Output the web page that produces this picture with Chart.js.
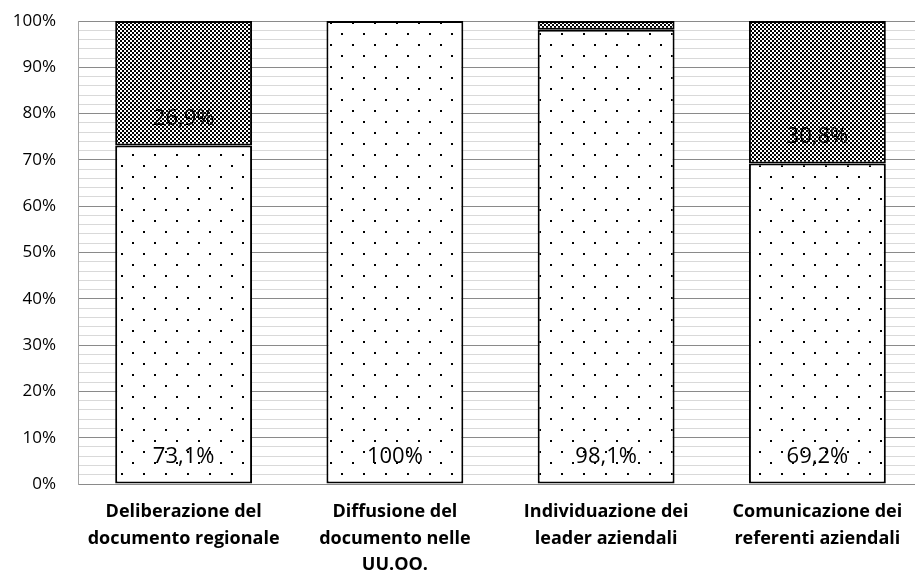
<!DOCTYPE html>
<html>
<head>
<meta charset="utf-8">
<script src="https://cdn.jsdelivr.net/npm/chart.js@4/dist/chart.umd.min.js"></script>
<style>
  html, body { margin: 0; padding: 0; background: #fff; overflow: hidden; }
  #wrap { width: 915px; height: 570px; overflow: hidden; }
</style>
</head>
<body>
<div id="wrap"><canvas id="c" width="924" height="570"></canvas></div>
<script>
const categories = [
  ['Deliberazione del', 'documento regionale'],
  ['Diffusione del', 'documento nelle', 'UU.OO.'],
  ['Individuazione dei', 'leader aziendali'],
  ['Comunicazione dei', 'referenti aziendali']
];
const seriesYes = [73.1, 100, 98.1, 69.2];
const seriesNo = [26.9, 0, 1.9, 30.8];
const labelsYes = ['73,1%', '100%', '98,1%', '69,2%'];
const labelsNo = ['26,9%', '', '', '30,8%'];
const yTickLabels = ['0%', '10%', '20%', '30%', '40%', '50%', '60%', '70%', '80%', '90%', '100%'];

function dotPattern() {
  const c = document.createElement('canvas');
  c.width = 22; c.height = 22;
  const x = c.getContext('2d');
  x.fillStyle = '#fff'; x.fillRect(0, 0, 22, 22);
  x.fillStyle = '#000';
  x.fillRect(0, 0, 2, 2);
  x.fillRect(11, 11, 2, 2);
  return x.createPattern(c, 'repeat');
}
function checkPattern() {
  const c = document.createElement('canvas');
  c.width = 4; c.height = 4;
  const x = c.getContext('2d');
  x.fillStyle = '#fff'; x.fillRect(0, 0, 4, 4);
  x.fillStyle = '#000';
  x.fillRect(0, 0, 2, 2);
  x.fillRect(2, 2, 2, 2);
  return x.createPattern(c, 'repeat');
}

const FONT = '"Open Sans", "DejaVu Sans", sans-serif';

const labelPlugin = {
  id: 'baseLabels',
  afterDatasetsDraw(chart) {
    const ctx = chart.ctx;
    const texts = [labelsYes, labelsNo];
    ctx.save();
    ctx.font = '22px ' + FONT;
    ctx.fillStyle = '#000';
    ctx.textAlign = 'center';
    ctx.textBaseline = 'middle';
    chart.data.datasets.forEach((ds, di) => {
      const meta = chart.getDatasetMeta(di);
      meta.data.forEach((el, i) => {
        const t = texts[di][i];
        if (!t) return;
        ctx.fillText(t, el.x, el.base - 27);
      });
    });
    ctx.restore();
  }
};

new Chart(document.getElementById('c'), {
  type: 'bar',
  data: {
    labels: categories,
    datasets: [
      {
        label: 'Sì',
        data: seriesYes,
        backgroundColor: dotPattern(),
        borderColor: '#000',
        borderWidth: 2,
        borderSkipped: false,
        categoryPercentage: 1,
        barPercentage: 0.648
      },
      {
        label: 'No',
        data: seriesNo,
        backgroundColor: checkPattern(),
        borderColor: '#000',
        borderWidth: 2,
        borderSkipped: false,
        categoryPercentage: 1,
        barPercentage: 0.648
      }
    ]
  },
  options: {
    responsive: false,
    animation: false,
    layout: { padding: { top: 21, right: 1, left: 0, bottom: 0 } },
    plugins: {
      legend: { display: false },
      tooltip: { enabled: false }
    },
    scales: {
      x: {
        stacked: true,
        grid: { display: false, drawTicks: false },
        border: { display: false },
        ticks: {
          color: '#000',
          font: { family: FONT, size: 18, weight: 'bold', lineHeight: 1.47 },
          padding: 15,
          maxRotation: 0,
          autoSkip: false
        },
        afterFit(scale) { scale.height = 86; }
      },
      y: {
        stacked: true,
        min: 0,
        max: 100,
        ticks: {
          stepSize: 2,
          autoSkip: false,
          color: '#000',
          font: { family: FONT, size: 17 },
          padding: 22,
          callback: (v) => (v % 10 === 0 ? yTickLabels[v / 10] : '')
        },
        grid: {
          drawTicks: false,
          color: (c) => (c.tick && c.tick.value % 10 === 0 ? '#8a8a8a' : '#d9d9d9'),
          lineWidth: 1
        },
        border: { display: true, color: '#a6a6a6', width: 1 },
        afterFit(scale) {
          scale.width = 78;
          scale.paddingTop = 0;
          scale.paddingBottom = 0;
        }
      }
    }
  },
  plugins: [labelPlugin]
});
</script>
</body>
</html>
